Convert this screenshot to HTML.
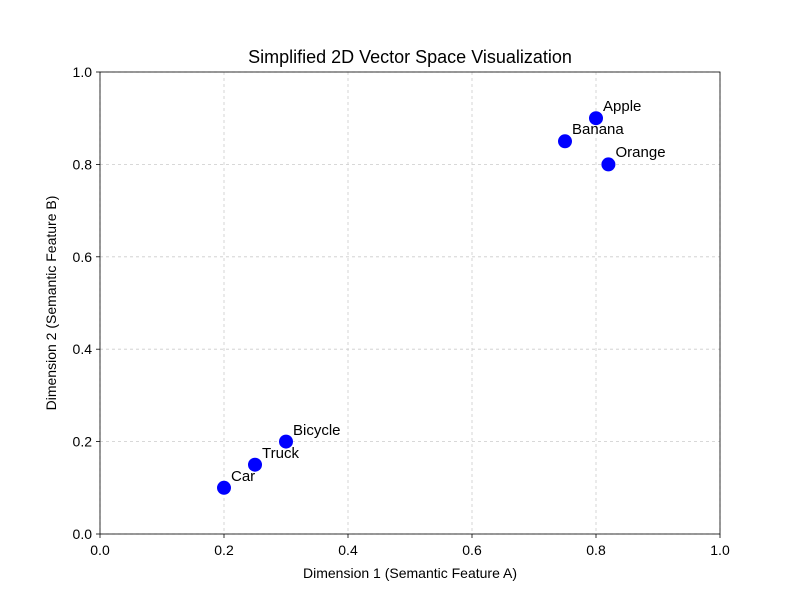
<!DOCTYPE html>
<html><head><meta charset="utf-8"><style>
html,body{margin:0;padding:0;background:#fff;}
svg{display:block;font-family:"Liberation Sans","DejaVu Sans",sans-serif;}
</style></head><body>
<svg width="800" height="600" viewBox="0 0 800 600" xmlns="http://www.w3.org/2000/svg">
<rect width="800" height="600" fill="#fff"/>
<g stroke="#cccccc" stroke-width="0.8" stroke-dasharray="3,3">
<line x1="100" y1="72" x2="100" y2="534"/>
<line x1="224" y1="72" x2="224" y2="534"/>
<line x1="348" y1="72" x2="348" y2="534"/>
<line x1="472" y1="72" x2="472" y2="534"/>
<line x1="596" y1="72" x2="596" y2="534"/>
<line x1="720" y1="72" x2="720" y2="534"/>
<line x1="100" y1="534" x2="720" y2="534"/>
<line x1="100" y1="441.6" x2="720" y2="441.6"/>
<line x1="100" y1="349.2" x2="720" y2="349.2"/>
<line x1="100" y1="256.8" x2="720" y2="256.8"/>
<line x1="100" y1="164.4" x2="720" y2="164.4"/>
<line x1="100" y1="72" x2="720" y2="72"/>
</g>
<g fill="#0000ff">
<circle cx="596" cy="118.2" r="7"/>
<circle cx="565" cy="141.3" r="7"/>
<circle cx="608.4" cy="164.4" r="7"/>
<circle cx="286" cy="441.6" r="7"/>
<circle cx="255" cy="464.7" r="7"/>
<circle cx="224" cy="487.8" r="7"/>
</g>
<g font-size="15" fill="#000">
<text x="603" y="111">Apple</text>
<text x="572" y="134">Banana</text>
<text x="615.5" y="157">Orange</text>
<text x="293" y="435">Bicycle</text>
<text x="262" y="458">Truck</text>
<text x="231" y="481">Car</text>
</g>
<rect x="100" y="72" width="620" height="462" fill="none" stroke="#000" stroke-width="0.8"/>
<g stroke="#000" stroke-width="0.8">
<line x1="100" y1="534" x2="100" y2="538"/>
<line x1="224" y1="534" x2="224" y2="538"/>
<line x1="348" y1="534" x2="348" y2="538"/>
<line x1="472" y1="534" x2="472" y2="538"/>
<line x1="596" y1="534" x2="596" y2="538"/>
<line x1="720" y1="534" x2="720" y2="538"/>
<line x1="96" y1="534" x2="100" y2="534"/>
<line x1="96" y1="441.6" x2="100" y2="441.6"/>
<line x1="96" y1="349.2" x2="100" y2="349.2"/>
<line x1="96" y1="256.8" x2="100" y2="256.8"/>
<line x1="96" y1="164.4" x2="100" y2="164.4"/>
<line x1="96" y1="72" x2="100" y2="72"/>
</g>
<g font-size="14" fill="#000" text-anchor="middle">
<text x="100" y="555">0.0</text>
<text x="224" y="555">0.2</text>
<text x="348" y="555">0.4</text>
<text x="472" y="555">0.6</text>
<text x="596" y="555">0.8</text>
<text x="720" y="555">1.0</text>
</g>
<g font-size="14" fill="#000" text-anchor="end">
<text x="92" y="539">0.0</text>
<text x="92" y="446.6">0.2</text>
<text x="92" y="354.2">0.4</text>
<text x="92" y="261.8">0.6</text>
<text x="92" y="169.4">0.8</text>
<text x="92" y="77">1.0</text>
</g>
<text x="410" y="578" font-size="14" text-anchor="middle">Dimension 1 (Semantic Feature A)</text>
<text transform="translate(56,303) rotate(-90)" font-size="14" text-anchor="middle">Dimension 2 (Semantic Feature B)</text>
<text x="410" y="63" font-size="18" text-anchor="middle">Simplified 2D Vector Space Visualization</text>
</svg>
</body></html>
